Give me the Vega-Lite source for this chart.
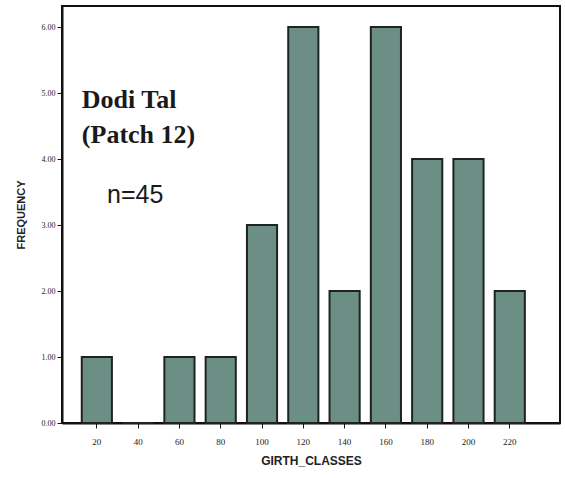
{
  "$schema": "https://vega.github.io/schema/vega-lite/v6.json",
  "width": 498,
  "height": 417,
  "autosize": {"type": "none"},
  "padding": {"left": 62, "top": 6, "right": 5, "bottom": 55},
  "background": "#ffffff",
  "config": {
    "view": {"stroke": "#111111", "strokeWidth": 2},
    "axis": {"grid": false}
  },
  "layer": [
    {
      "data": {
        "values": [
          {"GIRTH_CLASSES": 20, "FREQUENCY": 1},
          {"GIRTH_CLASSES": 40, "FREQUENCY": 0},
          {"GIRTH_CLASSES": 60, "FREQUENCY": 1},
          {"GIRTH_CLASSES": 80, "FREQUENCY": 1},
          {"GIRTH_CLASSES": 100, "FREQUENCY": 3},
          {"GIRTH_CLASSES": 120, "FREQUENCY": 6},
          {"GIRTH_CLASSES": 140, "FREQUENCY": 2},
          {"GIRTH_CLASSES": 160, "FREQUENCY": 6},
          {"GIRTH_CLASSES": 180, "FREQUENCY": 4},
          {"GIRTH_CLASSES": 200, "FREQUENCY": 4},
          {"GIRTH_CLASSES": 220, "FREQUENCY": 2}
        ]
      },
      "mark": {"type": "bar", "fill": "#6b8f84", "stroke": "#1e2220", "strokeWidth": 2},
      "encoding": {
        "x": {
          "field": "GIRTH_CLASSES",
          "type": "ordinal",
          "scale": {"paddingInner": 0.27, "paddingOuter": 0.665, "align": 0.36},
          "axis": {
            "title": "GIRTH_CLASSES",
            "titleFont": "Liberation Sans",
            "titleFontSize": 12,
            "titleFontWeight": "bold",
            "titleColor": "#222222",
            "titlePadding": 9,
            "labelAngle": 0,
            "labelFont": "Liberation Sans Narrow",
            "labelFontSize": 9,
            "labelColor": "#222222",
            "labelPadding": 9,
            "tickColor": "#111111",
            "tickSize": 5,
            "domainColor": "#111111",
            "domainWidth": 2
          }
        },
        "y": {
          "field": "FREQUENCY",
          "type": "quantitative",
          "scale": {"domain": [0, 6.32], "nice": false},
          "axis": {
            "title": "FREQUENCY",
            "titleFont": "Liberation Sans",
            "titleFontSize": 11,
            "titleFontWeight": "bold",
            "titleColor": "#222222",
            "titlePadding": 15,
            "values": [0, 1, 2, 3, 4, 5, 6],
            "format": ".2f",
            "labelFont": "Liberation Serif",
            "labelFontSize": 8,
            "labelColor": "#222222",
            "labelPadding": 2,
            "tickColor": "#111111",
            "tickSize": 5,
            "domainColor": "#111111",
            "domainWidth": 2
          }
        }
      }
    },
    {
      "data": {
        "values": [
          {"GIRTH_CLASSES": 20, "FREQUENCY": 4.77, "label": "Dodi Tal"},
          {"GIRTH_CLASSES": 20, "FREQUENCY": 4.24, "label": "(Patch 12)"}
        ]
      },
      "mark": {"type": "text", "align": "left", "baseline": "alphabetic", "font": "Liberation Serif", "fontWeight": "bold", "fontSize": 26, "color": "#1a1a1a", "xOffset": -15},
      "encoding": {
        "x": {"field": "GIRTH_CLASSES", "type": "ordinal"},
        "y": {"field": "FREQUENCY", "type": "quantitative"},
        "text": {"field": "label"}
      }
    },
    {
      "data": {"values": [{"GIRTH_CLASSES": 40, "FREQUENCY": 3.33, "label": "n=45"}]},
      "mark": {"type": "text", "align": "center", "baseline": "alphabetic", "font": "Liberation Sans", "fontSize": 25, "color": "#1a1a1a", "xOffset": -3},
      "encoding": {
        "x": {"field": "GIRTH_CLASSES", "type": "ordinal"},
        "y": {"field": "FREQUENCY", "type": "quantitative"},
        "text": {"field": "label"}
      }
    }
  ]
}
